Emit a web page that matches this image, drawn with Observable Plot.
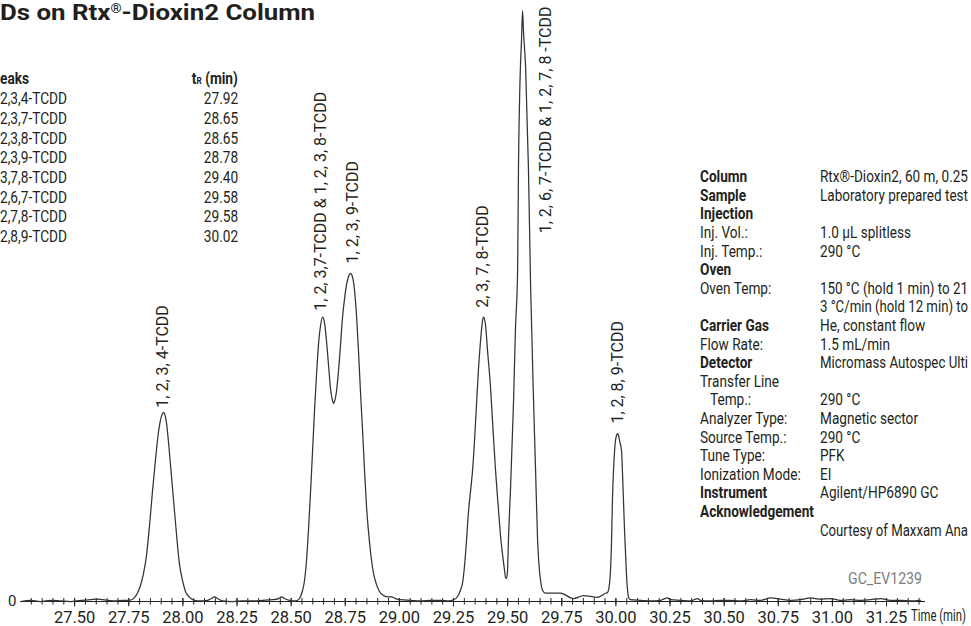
<!DOCTYPE html>
<html><head><meta charset="utf-8">
<script src="https://cdn.jsdelivr.net/npm/d3@7"></script>
<script src="https://cdn.jsdelivr.net/npm/@observablehq/plot@0.6"></script>
<style>
html,body{margin:0;padding:0;background:#fff;}
#wrap{position:relative;width:971px;height:626px;overflow:hidden;font-family:Roboto,"Liberation Sans",sans-serif;color:#231f20;}
#wrap svg{position:absolute;left:0;top:0;}
.t{position:absolute;white-space:nowrap;line-height:1;font-size:16px;}
.b{font-weight:700;}
.sx{display:inline-block;transform-origin:left center;}
.sxr{display:inline-block;transform-origin:right center;}
</style></head><body><div id="wrap"></div>
<script>
// ---- texts (visible part of a cropped figure) ----
const titleText = "Ds on Rtx";
const titleTail = "-Dioxin2 Column";
const tableHeader = "eaks";
const tableTimeHeader = "(min)";
const peakNames = ["2,3,4-TCDD","2,3,7-TCDD","2,3,8-TCDD","2,3,9-TCDD","3,7,8-TCDD","2,6,7-TCDD","2,7,8-TCDD","2,8,9-TCDD"];
const peakTimes = ["27.92","28.65","28.65","28.78","29.40","29.58","29.58","30.02"];

const infoLabels = ["Column","Sample","Injection","Inj. Vol.:","Inj. Temp.:","Oven","Oven Temp:","","Carrier Gas","Flow Rate:","Detector","Transfer Line","  Temp.:","Analyzer Type:","Source Temp.:","Tune Type:","Ionization Mode:","Instrument","Acknowledgement",""];
const infoValues = ["Rtx®-Dioxin2, 60 m, 0.25","Laboratory prepared test","","1.0 µL splitless","290 °C","","150 °C (hold 1 min) to 21","3 °C/min (hold 12 min) to","He, constant flow","1.5 mL/min","Micromass Autospec Ulti","","290 °C","Magnetic sector","290 °C","PFK","EI","Agilent/HP6890 GC","","Courtesy of Maxxam Ana"];
const infoBold = [1,1,1,0,0,1,0,0,1,0,1,0,0,0,0,0,0,1,1,0];
const figureCode = "GC_EV1239";

// ---- chromatogram trace (time in min, relative signal) ----
const traceTime = [
 27.250,27.296,27.342,27.389,27.435,27.481,27.527,27.573,27.601,27.629,27.656,27.689,27.721,27.749,
 27.763,27.777,27.790,27.804,27.818,27.832,27.846,27.860,27.874,27.887,27.896,27.906,27.910,27.915,27.924,27.933,27.943,27.957,27.971,27.984,27.998,28.012,28.031,28.054,
 28.081,28.114,28.132,28.146,28.160,28.183,28.229,28.275,28.322,28.368,28.414,28.442,28.456,28.469,28.492,28.516,
 28.529,28.543,28.553,28.562,28.571,28.580,28.590,28.599,28.608,28.617,28.626,28.636,28.645,28.654,28.663,28.673,28.682,28.691,28.696,28.700,28.710,28.719,28.728,28.737,28.747,28.756,28.765,28.774,28.783,28.793,28.802,28.811,28.820,28.830,28.839,28.848,28.857,28.867,28.880,28.894,28.908,28.927,28.945,28.964,28.982,29.005,29.051,29.098,29.144,29.190,29.227,
 29.250,29.268,29.282,29.292,29.301,29.310,29.319,29.329,29.338,29.347,29.356,29.365,29.375,29.384,29.389,29.398,29.407,29.421,29.430,29.444,29.458,29.467,29.476,29.486,29.490,29.495,
 29.499,29.504,29.513,29.527,29.536,29.546,29.550,29.559,29.564,29.569,29.573,29.583,29.596,29.606,29.620,29.629,29.638,29.647,29.652,29.661,29.675,
 29.744,29.804,29.850,29.915,29.952,
 29.961,29.971,29.975,29.980,29.984,29.989,29.994,29.998,30.003,30.008,30.012,30.017,30.026,30.031,30.035,30.040,30.045,30.049,30.054,30.058,30.067,
 30.114,30.160,30.206,30.238,30.252,30.298,30.345,30.377,30.391,30.437,30.483,30.529,30.576,30.622,30.668,30.714,30.760,30.807,30.853,30.899,30.945,30.991,31.037,31.084,31.130,31.176,31.222,31.268,31.315,31.361,31.407
];
const traceSignal = [
 0,0.2,0,0.2,0.1,0,0.2,0.3,0.4,0.3,0.2,0.1,0.2,0.2,
 0.3,0.7,1.4,2.7,4.7,7.8,12.9,18.8,24.2,28.6,30.6,31.8,32.0,31.8,30.3,27.2,23.0,17.1,11.2,6.4,3.6,1.7,0.7,0.2,
 0.1,0.2,0.5,0.8,0.5,0.1,0,0.1,0.1,0.2,0.3,0.5,0.8,0.5,0.2,0.1,
 0.2,0.8,1.9,3.6,6.9,12.0,18.8,25.5,32.3,38.2,43.3,46.7,48.1,47.2,44.2,39.9,36.0,34.0,33.5,33.8,35.7,39.1,43.3,47.9,51.3,53.6,55.0,55.5,55.0,52.6,48.4,42.5,35.7,28.9,22.2,16.2,12.0,8.3,4.9,2.9,1.7,1.0,0.8,0.8,0.5,0.3,0.2,0.1,0.2,0.2,0.1,
 0.3,0.8,1.9,3.2,6.1,10.3,15.1,18.8,22.2,27.2,33.2,39.1,44.2,47.5,48.1,46.7,42.5,36.2,30.6,22.2,15.4,11.2,8.1,5.2,4.1,3.9,
 4.9,10.8,18.8,33.5,45.9,56.0,72.9,90.4,94.9,100,96.6,90.4,73.4,53.5,33.5,22.2,10.8,5.2,3.6,1.9,1.4,
 1.4,0.5,1.0,0.7,1.4,
 1.5,3.2,5.2,10.3,17.1,22.2,25.5,27.2,28.1,28.4,28.1,27.2,25.5,21.3,17.1,12.0,7.8,4.4,1.9,0.7,0.3,
 0.2,0.1,0.2,0.6,0.3,0.2,0.1,0.5,0.2,0.1,0.2,0.2,0.1,0.3,0.2,0.6,0.4,0.2,0.3,0.6,0.4,0.5,0.2,0.3,0.2,0.3,0.5,0.2,0.2,0.1,0.2
];

// ---- peak labels ----
const labelText = ["1, 2, 3, 4-TCDD","1, 2, 3,7-TCDD & 1, 2, 3, 8-TCDD","1, 2, 3, 9-TCDD","2, 3, 7, 8-TCDD","1, 2, 6, 7-TCDD & 1, 2, 7, 8 -TCDD","1, 2, 8, 9-TCDD"];
const labelTime  = [27.906, 28.636, 28.783, 29.384, 29.675, 30.008];
const labelLevel = [32.8, 49.2, 57.2, 49.7, 62.3, 30.1];

// ---- axis ----
const tickLabels = ["27.50","27.75","28.00","28.25","28.50","28.75","29.00","29.25","29.50","29.75","30.00","30.25","30.50","30.75","31.00","31.25"];
const axisTitle = "Time (min)";
const xDomain = [27.25, 31.43];

const trace = traceTime.map((t,i)=>({t, s: traceSignal[i]}));
const labels = labelText.map((text,i)=>({text, t: labelTime[i], s: labelLevel[i]}));
const majors = tickLabels.map(Number);
const minors = d3.range(27.30, 31.401, 0.05);

// text measuring, used to condense the lettering like the original narrow face
const FONT = "Roboto, 'Liberation Sans', sans-serif";
const ctx = document.createElement("canvas").getContext("2d");
function textWidth(s, font){ ctx.font = font; return ctx.measureText(s).width; }
const tickScale  = 32 / textWidth("27.50", `16.5px ${FONT}`);
const axisTitleScale = 55 / textWidth(axisTitle, `16.5px ${FONT}`);
const labelScale = 95 / textWidth("1, 2, 3, 4-TCDD", `16px ${FONT}`);
const infoScale  = 98 / textWidth("Magnetic sector", `16px ${FONT}`);
const tableScale = 67 / textWidth("2,3,4-TCDD", `16px ${FONT}`);
const codeScale  = 74 / textWidth(figureCode, `16px ${FONT}`);
const titleScale = 315 / (textWidth("Ds on Rtx-Dioxin2 Column", `bold 22px ${FONT}`) + textWidth("®", `bold 12px ${FONT}`));

const ink = "#231f20";
const svg = Plot.plot({
  width: 971, height: 626,
  marginLeft: 20, marginRight: 46, marginTop: 10, marginBottom: 25,
  x: {domain: xDomain, axis: null},
  y: {domain: [0, 100], axis: null},
  style: {fontFamily: FONT, color: ink, background: "transparent", overflow: "visible"},
  marks: [
    Plot.ruleY([0], {x1: xDomain[0], x2: xDomain[1], stroke: ink, strokeWidth: 1.1}),
    Plot.ruleX(minors, {x: d=>d, y1: -0.6, y2: 0.5, stroke: ink, strokeWidth: 1}),
    Plot.ruleX(majors, {x: d=>d, y1: -0.9, y2: 0.5, stroke: ink, strokeWidth: 1}),
    Plot.text(tickLabels, {x: d=>+d, y: -2.7, text: d=>d, fontSize: 16.5, fill: ink, ariaLabel: "ticklabels"}),
    Plot.text(["0"], {x: xDomain[0], y: 0, text: d=>d, dx: -4, textAnchor: "end", fontSize: 15, fill: ink}),
    Plot.line(trace, {x: "t", y: "s", stroke: "#333", strokeWidth: 1.25, curve: "monotone-x"}),
    Plot.text(labels, {x: "t", y: "s", text: "text", rotate: -90, textAnchor: "start", lineAnchor: "middle", fontSize: 16, fill: ink, ariaLabel: "peaklabels"})
  ]
});

const wrap = document.getElementById("wrap");
wrap.appendChild(svg);

// condense glyphs; middle-anchored texts are re-anchored manually after compression
function condense(aria, f, anchor="start"){
  svg.querySelectorAll(`g[aria-label="${aria}"] text`).forEach(el=>{
    const L = el.getComputedTextLength();
    const Lc = L*f;
    el.setAttribute("textLength", Lc.toFixed(2));
    el.setAttribute("lengthAdjust", "spacingAndGlyphs");
    if (anchor === "middle") {
      el.style.textAnchor = "start";
      el.setAttribute("dx", (-Lc/2).toFixed(2));
    }
  });
}
condense("ticklabels", tickScale, "middle");
condense("peaklabels", labelScale, "start");

function addText(html, left, yMid, opts={}){
  const d = document.createElement("div");
  d.className = "t" + (opts.bold ? " b" : "");
  const fs = opts.size || 16;
  const sc = opts.scale || infoScale;
  d.style.fontSize = fs + "px";
  d.style.top = (yMid - fs*0.55) + "px";
  if (opts.right !== undefined) { d.style.right = (971 - opts.right) + "px"; d.innerHTML = `<span class="sxr" style="transform:scaleX(${sc})">${html}</span>`; }
  else { d.style.left = left + "px"; d.innerHTML = `<span class="sx" style="transform:scaleX(${sc})">${html}</span>`; }
  if (opts.color) d.style.color = opts.color;
  wrap.appendChild(d);
  return d;
}

// axis title, placed just after the last tick label
addText(axisTitle, 911, 617, {size: 16.5, scale: axisTitleScale});

// title
addText(`${titleText}<span style="font-size:0.55em;vertical-align:0.6em;line-height:0">®</span>${titleTail}`, 0, 14, {bold: true, size: 22, scale: titleScale});

// peak table
addText(tableHeader, 0, 80, {bold: true, scale: tableScale});
addText(`t<span style="font-size:0.6em">R</span> ${tableTimeHeader}`, null, 80, {bold: true, right: 238, scale: tableScale});
peakNames.forEach((n,i)=>{
  const y = 100 + i*19.7;
  addText(n, 0, y, {scale: tableScale});
  addText(peakTimes[i], null, y, {right: 238, scale: tableScale});
});

// info panel (values that run into the right edge are squeezed to stay inside)
infoLabels.forEach((lab,i)=>{
  const y = 178 + i*18.6;
  if (lab) addText(lab.trim(), lab.startsWith(" ") ? 710 : 700, y, {bold: !!infoBold[i]});
  const v = infoValues[i];
  if (v) {
    const raw = textWidth(v, `16px ${FONT}`);
    const sc = Math.min(infoScale, 148 / raw);
    addText(v, 820, y, {scale: sc});
  }
});

addText(figureCode, 848, 580, {color: "#7d7d7d", scale: codeScale});
</script></body></html>
